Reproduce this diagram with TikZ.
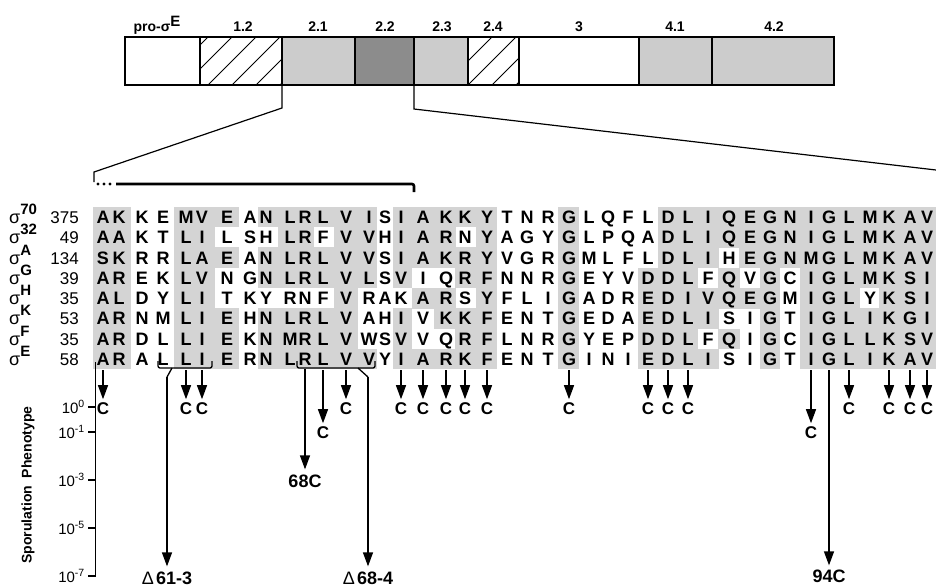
\documentclass[tikz,border=0pt]{standalone}
\usepackage{fontspec}
\setmainfont{Liberation Sans}
\usetikzlibrary{arrows.meta}
\newcommand\colx[1]{\csname cx#1\endcsname}
\begin{document}
\begin{tikzpicture}[x=1pt,y=-1pt,
  res/.style={font=\fontsize{18}{18}\selectfont\bfseries, inner sep=0pt, text height=12.9pt, text depth=0pt},
  shadecell/.style={fill=black!17},
  numlab/.style={font=\fontsize{17}{17}\selectfont, inner sep=0pt, anchor=base east},
  siglab/.style={inner sep=0pt, anchor=base west},
  seglab/.style={font=\fontsize{14}{14}\selectfont\bfseries, inner sep=0pt, anchor=base},
  barline/.style={line width=1.8pt},
  divline/.style={line width=1.4pt},
  hatchline/.style={line width=1pt},
  zoomline/.style={line width=1.2pt},
  arr/.style={line width=1.3pt, -{Triangle[width=10pt,length=14pt]}, shorten >=2.5pt},
  plainline/.style={line width=1.3pt},
  clab/.style={font=\fontsize{17}{17}\selectfont\bfseries, inner sep=0pt, text height=12.2pt, text depth=0pt},
  mutlab/.style={font=\fontsize{18}{18}\selectfont\bfseries, inner sep=0pt, text height=12.9pt, text depth=0pt},
  ticklab/.style={font=\fontsize{15}{15}\selectfont, inner sep=0pt, anchor=east},
  axisline/.style={line width=1.2pt}
]
\useasboundingbox (0,0) rectangle (936,587);

% column positions
\foreach \v [count=\cj] in {103,119,142,163,186,202,227,250,266,290,305,323,346,369,385,401,423,446,465,487,507,527,548,569,589,608,628,648,668,688,708,729,750,770,790,811,829,849,870,889,910,927}
  {\expandafter\xdef\csname cx\cj\endcsname{\v}}
\expandafter\xdef\csname cx0\endcsname{83}
\expandafter\xdef\csname cx43\endcsname{945}

% ---------- top bar ----------
\fill[black!20] (282,37) rectangle (355,85);
\fill[black!45] (355,37) rectangle (414,85);
\fill[black!20] (414,37) rectangle (468,85);
\fill[black!20] (639,37) rectangle (834,85);
\begin{scope}
  \clip (200,37) rectangle (282,85);
  \foreach \k in {0,24,...,168} \draw[hatchline] (160+\k,85) -- ++(60,-60);
\end{scope}
\begin{scope}
  \clip (468,37) rectangle (519,85);
  \foreach \k in {0,24,...,120} \draw[hatchline] (420+\k,85) -- ++(60,-60);
\end{scope}
\foreach \xx in {200,282,355,414,468,519,639,712} \draw[divline] (\xx,37) -- (\xx,85);
\draw[barline] (125,37) rectangle (834,85);

\node[seglab] (lpro) at (157,31) {pro-σ\raisebox{5pt}{\fontsize{15}{15}\selectfont E}};
\node[seglab] (l12) at (243,31) {1.2};
\node[seglab] (l21) at (318,31) {2.1};
\node[seglab] (l22) at (385,31) {2.2};
\node[seglab] (l23) at (442,31) {2.3};
\node[seglab] (l24) at (493,31) {2.4};
\node[seglab] (l3) at (579,31) {3};
\node[seglab] (l41) at (675,31) {4.1};
\node[seglab] (l42) at (774,31) {4.2};

% zoom lines
\coordinate (zA1) at (282,85); \coordinate (zA2) at (282,108);
\coordinate (zA3) at (94,172); \coordinate (zA4) at (94,182);
\draw[zoomline] (zA1) -- (zA2) -- (zA3) -- (zA4);
\coordinate (zB1) at (414,85); \coordinate (zB2) at (414,109);
\coordinate (zB3) at (936,170);
\draw[zoomline] (zB1) -- (zB2) -- (zB3);

% region bracket
\foreach \dx in {98,104,110} \fill (\dx,184) circle (1.7);
\draw[line width=2.6pt, rounded corners=2pt] (116,184) -| (414,192);

% ---------- shading ----------
\foreach \mk [count=\rw] in {
 {1,1,0,0,1,1,1,0,1,1, 1,1,1,1,0,1,1,1,1,1, 0,0,0,1,0,0,0,0,1,1, 1,1,1,1,1,1,1,1,1,1,1,1},
 {1,1,0,0,1,1,0,0,0,1, 1,0,1,1,0,1,1,1,0,1, 0,0,0,1,0,0,0,0,1,1, 1,1,1,1,1,1,1,1,1,1,1,1},
 {1,1,0,0,1,1,1,0,1,1, 1,1,1,1,0,1,1,1,1,1, 0,0,0,1,0,0,0,0,1,1, 1,0,1,1,1,1,1,1,1,1,1,1},
 {1,1,0,0,1,1,0,0,1,1, 1,1,1,1,0,1,0,0,1,1, 0,0,0,1,0,0,0,1,1,1, 0,1,0,1,0,1,1,1,1,1,1,1},
 {1,1,0,0,1,1,0,0,0,0, 0,0,1,0,0,0,1,1,0,1, 0,0,0,1,0,0,0,1,1,1, 1,1,1,1,0,1,1,1,0,1,1,1},
 {1,1,0,0,1,1,1,0,1,1, 1,1,1,0,0,1,0,1,1,1, 0,0,0,1,0,0,0,1,1,1, 1,0,0,1,0,1,1,1,1,1,1,1},
 {1,1,0,0,1,1,1,0,1,1, 1,1,1,0,0,1,0,0,1,1, 0,0,0,1,0,0,0,1,1,1, 0,1,0,1,0,1,1,1,1,1,1,1},
 {1,1,0,0,1,1,1,0,1,1, 1,1,1,1,0,1,1,1,1,1, 0,0,0,1,0,0,0,1,1,1, 1,0,0,1,0,1,1,1,1,1,1,1}} {
  \pgfmathsetmacro\ry{217+20.3*(\rw-1)}
  \foreach \m [count=\cj] in \mk {
    \ifnum\m=1
      \edef\xa{\csname cx\the\numexpr\cj-1\relax\endcsname}%
      \edef\xb{\csname cx\cj\endcsname}%
      \edef\xc{\csname cx\the\numexpr\cj+1\relax\endcsname}%
      \fill[shadecell] ({(\xa+\xb)/2-0.3},{\ry-10.3}) rectangle ({(\xb+\xc)/2+0.3},{\ry+10.3});
    \fi
  }
}

% ---------- residues ----------
\foreach \sq [count=\rw] in {
 {A,K,K,E,M,V,E,A,N,L,R,L,V,I,S,I,A,K,K,Y,T,N,R,G,L,Q,F,L,D,L,I,Q,E,G,N,I,G,L,M,K,A,V},
 {A,A,K,T,L,I,L,S,H,L,R,F,V,V,H,I,A,R,N,Y,A,G,Y,G,L,P,Q,A,D,L,I,Q,E,G,N,I,G,L,M,K,A,V},
 {S,K,R,R,L,A,E,A,N,L,R,L,V,V,S,I,A,K,R,Y,V,G,R,G,M,L,F,L,D,L,I,H,E,G,N,M,G,L,M,K,A,V},
 {A,R,E,K,L,V,N,G,N,L,R,L,V,L,S,V,I,Q,R,F,N,N,R,G,E,Y,V,D,D,L,F,Q,V,G,C,I,G,L,M,K,S,I},
 {A,L,D,Y,L,I,T,K,Y,R,N,F,V,R,A,K,A,R,S,Y,F,L,I,G,A,D,R,E,D,I,V,Q,E,G,M,I,G,L,Y,K,S,I},
 {A,R,N,M,L,I,E,H,N,L,R,L,V,A,H,I,V,K,K,F,E,N,T,G,E,D,A,E,D,L,I,S,I,G,T,I,G,L,I,K,G,I},
 {A,R,D,L,L,I,E,K,N,M,R,L,V,W,S,V,V,Q,R,F,L,N,R,G,Y,E,P,D,D,L,F,Q,I,G,C,I,G,L,L,K,S,V},
 {A,R,A,L,L,I,E,R,N,L,R,L,V,V,Y,I,A,R,K,F,E,N,T,G,I,N,I,E,D,L,I,S,I,G,T,I,G,L,I,K,A,V}} {
  \pgfmathsetmacro\ry{217+20.3*(\rw-1)}
  \foreach \ltr [count=\cj] in \sq {
    \node[res] (r\rw-\cj) at (\colx{\cj},\ry) {\ltr};
  }
}

% sigma labels and numbers
\foreach \sg/\nm [count=\rw] in {70/375,32/49,A/134,G/39,H/35,K/53,F/35,E/58} {
  \pgfmathsetmacro\rb{217+20.3*(\rw-1)+6.45}
  \node[siglab] (sig\rw) at (9,\rb) {\fontsize{18}{18}\selectfont σ\raisebox{9pt}{\fontsize{15}{15}\selectfont\bfseries\sg}};
  \node[numlab] (num\rw) at (79,\rb) {\nm};
}

% ---------- axis ----------
\draw[axisline] (95.5,362) -- (95.5,576);
\foreach \yy/\lab [count=\k] in {407/0,432/-1,480/-3,528/-5,576/-7} {
  \draw[axisline] (88,\yy) -- (95.5,\yy);
  \node[ticklab] (tick\k) at (85,\yy) {10\textsuperscript{\lab}};
}
\node[rotate=90, font=\fontsize{14}{14}\selectfont\bfseries, inner sep=0pt] (ylab) at (28,485) {Sporulation\ \ Phenotype};

% ---------- arrows ----------
\foreach \cj in {1,5,6,13,16,17,18,19,20,24,28,29,30,38,40,41,42} {
  \coordinate (a\cj) at (\colx{\cj},370);
  \node[clab] (c\cj) at (\colx{\cj},408) {C};
  \draw[arr] (a\cj) -- (c\cj.north);
}
\foreach \cj in {12,36} {
  \coordinate (a\cj) at (\colx{\cj},370);
  \node[clab] (c\cj) at (\colx{\cj},432) {C};
  \draw[arr] (a\cj) -- (c\cj.north);
}
\coordinate (a11) at (\colx{11},369);
\node[mutlab] (m68) at (\colx{11},481) {68C};
\draw[arr, shorten >=5pt] (a11) -- (m68.north);
\coordinate (a37) at (\colx{37},370);
\node[mutlab] (m94) at (\colx{37},576) {94C};
\draw[arr, shorten >=4pt] (a37) -- (m94.north);

% deletion brackets
\draw[plainline, rounded corners=2pt] (158,361) -- (158,368) -- (212,368) -- (212,361);
\coordinate (b1) at (172,368); \coordinate (b1k) at (167,377);
\node[mutlab] (d613) at (167,578) {{\mdseries Δ}\hspace{2pt}61-3};
\draw[plainline] (b1) -- (b1k);
\draw[arr, shorten >=5pt] (b1k) -- (d613.north);

\draw[plainline, rounded corners=2pt] (297,361) -- (297,368) -- (375,368) -- (375,361);
\coordinate (b2) at (358,368); \coordinate (b2k) at (368,377);
\node[mutlab] (d684) at (368,578) {{\mdseries Δ}\hspace{2pt}68-4};
\draw[plainline] (b2) -- (b2k);
\draw[arr, shorten >=5pt] (b2k) -- (d684.north);
\end{tikzpicture}
\end{document}
